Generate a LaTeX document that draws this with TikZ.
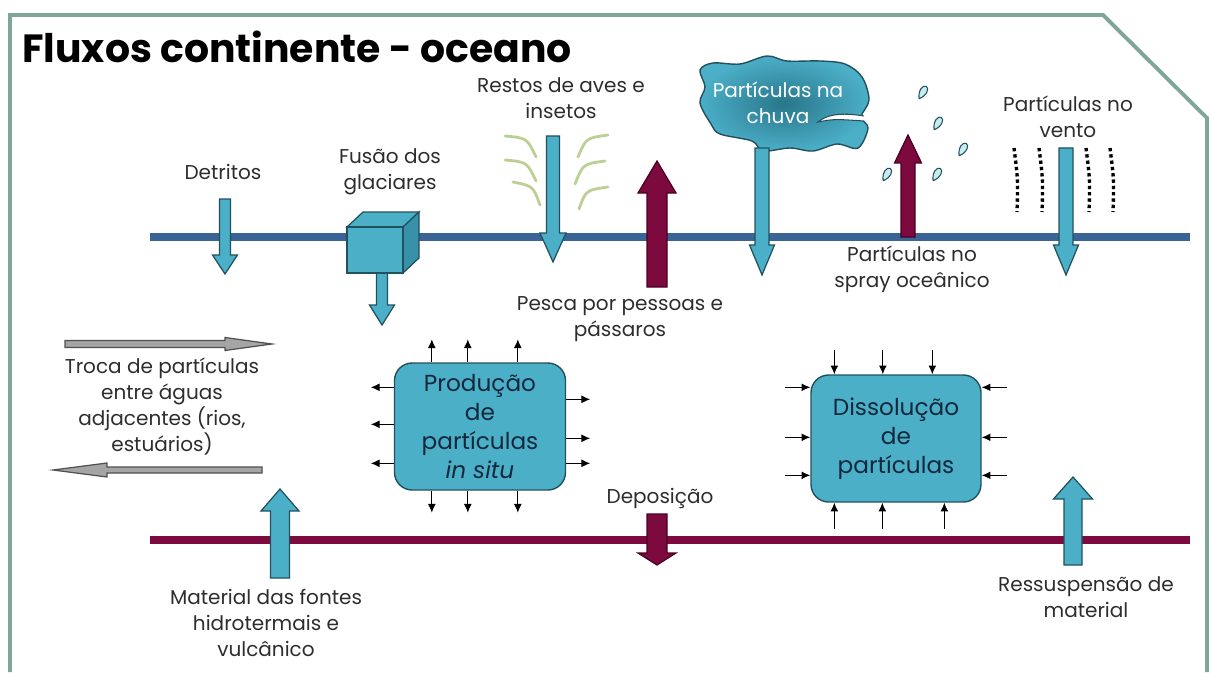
\documentclass[tikz,border=0pt]{standalone}
\usepackage{fontspec}
\setmainfont{Poppins}
\usetikzlibrary{arrows.meta,calc}

\definecolor{framegreen}{RGB}{127,166,150}
\definecolor{surfblue}{RGB}{59,100,150}
\definecolor{maroon}{RGB}{125,10,62}
\definecolor{maroondark}{RGB}{75,0,35}
\definecolor{tealfill}{RGB}{75,175,200}
\definecolor{tealline}{RGB}{35,80,95}
\definecolor{clouddark}{RGB}{40,118,138}
\definecolor{tealside}{RGB}{55,145,168}
\definecolor{arrowgray}{RGB}{165,165,165}
\definecolor{grayline}{RGB}{80,80,80}
\definecolor{wispgreen}{RGB}{188,208,150}
\definecolor{dropfill}{RGB}{200,235,240}
\definecolor{labelgray}{RGB}{45,45,45}
\definecolor{boxtext}{RGB}{20,40,60}

\newcommand{\lblfont}{\fontsize{11.4}{14.8}\selectfont}
\newcommand{\boxfont}{\fontsize{13.2}{16.5}\selectfont}
\newcommand{\titlefont}{\fontsize{22.4}{26}\selectfont\bfseries}

% vertical block arrow: style, x, y base, y tip, half shaft, half head, head length (signed)
\newcommand{\vblock}[7]{%
  \draw[#1] ({#2-#5},#3) -- ({#2-#5},{#4-#7}) -- ({#2-#6},{#4-#7}) -- (#2,#4)
    -- ({#2+#6},{#4-#7}) -- ({#2+#5},{#4-#7}) -- ({#2+#5},#3) -- cycle;}
% horizontal block arrow: style, y, x base, x tip, half shaft, half head, head length (signed)
\newcommand{\hblock}[7]{%
  \draw[#1] (#3,{#2-#5}) -- ({#4-#7},{#2-#5}) -- ({#4-#7},{#2-#6}) -- (#4,#2)
    -- ({#4-#7},{#2+#6}) -- ({#4-#7},{#2+#5}) -- (#3,{#2+#5}) -- cycle;}

\tikzset{
  lbl/.style={font=\lblfont, text=labelgray, align=center, inner sep=1pt},
  tealarrow/.style={fill=tealfill, draw=tealline, line width=0.7pt},
  redarrow/.style={fill=maroon, draw=maroondark, line width=0.7pt},
  grayarrow/.style={fill=arrowgray, draw=grayline, line width=0.7pt},
  procbox/.style={draw=tealline, fill=tealfill, rounded corners=10pt, line width=0.8pt,
    minimum width=3.42cm, minimum height=2.54cm, font=\boxfont, text=boxtext, align=center},
  tinyarr/.style={-{Latex[length=5pt,width=4.5pt]}, line width=0.6pt},
  wisp/.style={draw=wispgreen, line width=1.6pt, line cap=round},
  windline/.style={line width=1.9pt, dash pattern=on 1.9pt off 1.7pt},
  drop/.style={draw=tealline, fill=dropfill, line width=0.6pt},
  frameline/.style={draw=framegreen, line width=2.2pt},
}

\begin{document}
\begin{tikzpicture}[x=0.02cm, y=-0.02cm]
  \useasboundingbox (0,0) rectangle (1212,672);
  % frame
  \draw[frameline] (10,672) -- (10,15) -- (1103,15) -- (1207,118) -- (1207,672);
  \node[anchor=west, font=\titlefont, text=black] (title) at (16,47) {Fluxos continente - oceano};

  % surface and bottom
  \draw[surfblue, line width=4.2pt] (150,237) -- (1190,237);
  \draw[maroon, line width=4pt] (150,540) -- (1190,540);

  % top fluxes
  \node[lbl] (detritos) at (223,172) {Detritos};
  \vblock{tealarrow}{225}{199}{274}{5.5}{12.5}{19}

  \node[lbl] (fusao) at (390,172) {Fusão dos\\glaciares};
  \vblock{tealarrow}{382}{270}{325}{5.5}{12.5}{20}
  \draw[tealarrow] (347,227) -- (363,212) -- (419,212) -- (403,227) -- cycle;
  \draw[tealarrow, fill=tealside] (403,227) -- (419,212) -- (419,258) -- (403,273) -- cycle;
  \draw[tealarrow] (347,227) rectangle (403,273);

  \node[lbl] (restos) at (561,98) {Restos de aves e\\insetos};
  \draw[wisp] (505,136) .. controls (527,138) .. (536,157);
  \draw[wisp] (505,160) .. controls (527,162) .. (536,181);
  \draw[wisp] (513,182) .. controls (533,186) .. (540,205);
  \draw[wisp] (608,135) .. controls (586,138) .. (578,157);
  \draw[wisp] (605,161) .. controls (583,164) .. (575,184);
  \draw[wisp] (608,187) .. controls (586,190) .. (579,209);
  \vblock{tealarrow}{553}{136}{262}{6.5}{13}{29}

  \node[lbl] (pesca) at (620,319) {Pesca por pessoas e\\pássaros};
  \vblock{redarrow}{657}{287}{161}{10}{19}{-32}

  \shadedraw[inner color=clouddark, outer color=tealfill, draw=tealline, line width=0.8pt]
    plot[smooth cycle, tension=0.55] coordinates {(700,70) (713,63) (740,64) (767,56) (787,61)
      (820,61) (845,64) (862,77) (869,100) (861,117) (868,128) (858,148) (837,144) (813,151)
      (790,148) (763,151) (752,141) (720,134) (711,124) (700,103) (705,87)};
  \draw[tealline, fill=white, line width=0.6pt] (864,116) .. controls (840,112) and (826,115) .. (818,122)
    .. controls (834,119) .. (864,121);
  \node[lbl, text=white] (chuva) at (778,103) {Partículas na\\chuva};
  \vblock{tealarrow}{762}{148}{275}{7}{12.5}{30}

  \foreach \p in {(923,92),(938,123),(963,149),(887,174),(937,174)}
    \draw[drop, shift={\p}, rotate=-30, scale=1.3] (0,6) .. controls (-4,1) and (-3,-5) .. (0,-5)
      .. controls (3,-5) and (4,1) .. (0,6);
  \vblock{redarrow}{908}{237}{135}{7}{13.5}{-28}
  \node[lbl] (spray) at (912,269) {Partículas no\\spray oceânico};

  \node[lbl] (vento) at (1068,117) {Partículas no\\vento};
  \draw[windline] (1014,148) .. controls (1018,180) .. (1017,212);
  \draw[windline] (1039,148) .. controls (1043,180) .. (1042,212);
  \draw[windline] (1086,148) .. controls (1090,180) .. (1089,212);
  \draw[windline] (1110,148) .. controls (1114,180) .. (1113,212);
  \vblock{tealarrow}{1066}{148}{275}{7}{12.5}{30}

  % lateral exchange
  \hblock{grayarrow}{344}{65}{272}{3.5}{6.5}{47}
  \hblock{grayarrow}{470}{262}{53}{3}{7}{-54}
  \node[lbl] (troca) at (162,407) {Troca de partículas\\entre águas\\adjacentes (rios,\\estuários)};

  % water column
  \node[procbox] (prod) at (480,426.5) {Produção\\de\\partículas\\\textit{in situ}};
  \foreach \dx in {38,74,124} {
    \draw[tinyarr] ($(prod.north west)+(\dx,0)$) -- ++(0,-23);
    \draw[tinyarr] ($(prod.south west)+(\dx,0)$) -- ++(0,22);
  }
  \foreach \dy in {25,62,101}
    \draw[tinyarr] ($(prod.north west)+(0,\dy)$) -- ++(-23,0);
  \foreach \dy in {37,76,101}
    \draw[tinyarr] ($(prod.north east)+(0,\dy)$) -- ++(24,0);

  \node[procbox, minimum width=3.4cm] (diss) at (896,438.5) {Dissolução\\de\\partículas};
  \foreach \dx in {24,72.5,122}
    \draw[tinyarr] ($(diss.north west)+(\dx,-24)$) -- ++(0,24);
  \foreach \dx in {24,72,134}
    \draw[tinyarr] ($(diss.south west)+(\dx,26)$) -- ++(0,-26);
  \foreach \dy in {13,63,101} {
    \draw[tinyarr] ($(diss.north west)+(-25,\dy)$) -- ++(25,0);
    \draw[tinyarr] ($(diss.north east)+(25,\dy)$) -- ++(-25,0);
  }

  % bottom fluxes
  \node[lbl] (deposicao) at (660,498) {Deposição};
  \vblock{redarrow}{657}{514}{565}{10}{19}{12}

  \vblock{tealarrow}{280}{578}{489}{9.5}{19}{-22}
  \node[lbl] (material) at (266,623) {Material das fontes\\hidrotermais e\\vulcânico};

  \vblock{tealarrow}{1073}{565}{477}{9}{19.5}{-22}
  \node[lbl] (ressusp) at (1086,597) {Ressuspensão de\\material};
\end{tikzpicture}
\end{document}
